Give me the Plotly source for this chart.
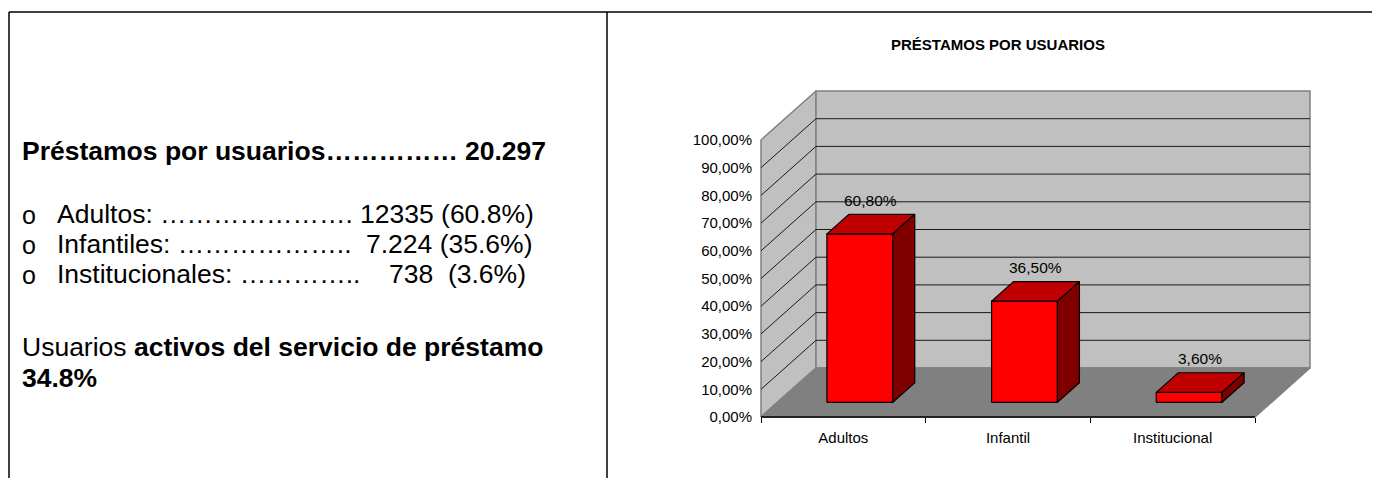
import plotly.graph_objects as go

# ---------------- data ----------------
categories = ["Adultos", "Infantil", "Institucional"]
values = [60.8, 36.5, 3.6]
value_labels = ["60,80%", "36,50%", "3,60%"]
y_tick_values = [0, 10, 20, 30, 40, 50, 60, 70, 80, 90, 100]
y_tick_labels = ["0,00%", "10,00%", "20,00%", "30,00%", "40,00%", "50,00%",
                 "60,00%", "70,00%", "80,00%", "90,00%", "100,00%"]
chart_title = "PRÉSTAMOS POR USUARIOS"

summary_title = "Préstamos por usuarios"
summary_total = "20.297"
item_names = ["Adultos", "Infantiles", "Institucionales"]
item_counts = ["12335", "7.224", "738"]
item_shares = ["(60.8%)", "(35.6%)", "(3.6%)"]
active_label = "Usuarios"
active_bold = "activos del servicio de préstamo"
active_share = "34.8%"

# ---------------- layout geometry (screen pixels) ----------------
W, H = 1380, 478
OFF = 8  # page body margin: figure origin sits at (8, 8) on screen
FRONT_LEFT_PX, FRONT_RIGHT_PX = 761, 1255
FLOOR_PX, TOP_PX = 417, 140
DEPTH_DX_PX, DEPTH_DY_PX = 55, 49
PX_CAT = (FRONT_RIGHT_PX - FRONT_LEFT_PX) / 3.0
PX_PCT = (FLOOR_PX - TOP_PX) / 100.0
DX = DEPTH_DX_PX / PX_CAT
DY = DEPTH_DY_PX / PX_PCT
NCAT = len(categories)
VMAX = y_tick_values[-1]


def fx(px):
    return (px - OFF) / W


def fy(py):
    return 1 - (py - OFF) / H


def P(x, y, z):
    return x + z * DX, y + z * DY


def poly(pts, fill, line_color, width=1):
    xs, ys = zip(*[P(*p) for p in pts])
    xs = list(xs) + [xs[0]]
    ys = list(ys) + [ys[0]]
    return go.Scatter(x=xs, y=ys, mode="lines", fill="toself", fillcolor=fill,
                      line=dict(color=line_color, width=width),
                      hoverinfo="skip", showlegend=False)


def polyline(segments, color, width=1):
    xs, ys = [], []
    for seg in segments:
        for p in seg:
            px, py = P(*p)
            xs.append(px)
            ys.append(py)
        xs.append(None)
        ys.append(None)
    return go.Scatter(x=xs, y=ys, mode="lines", line=dict(color=color, width=width),
                      hoverinfo="skip", showlegend=False)


fig = go.Figure()

WALL = "#C0C0C0"
FLOOR = "#808080"
EDGE = "#808080"

fig.add_trace(poly([(0, 0, 0), (0, VMAX, 0), (0, VMAX, 1), (0, 0, 1)], WALL, EDGE, 1.5))
fig.add_trace(poly([(0, 0, 1), (0, VMAX, 1), (NCAT, VMAX, 1), (NCAT, 0, 1)], WALL, EDGE, 1.5))
fig.add_trace(poly([(0, 0, 0), (NCAT, 0, 0), (NCAT, 0, 1), (0, 0, 1)], FLOOR, EDGE, 1.5))

grid = []
for v in y_tick_values[1:-1]:
    grid.append([(0, v, 0), (0, v, 1), (NCAT, v, 1)])
fig.add_trace(polyline(grid, "#1a1a1a", 1))

fig.add_trace(polyline([[(0, 0, 0), (NCAT, 0, 0)]], "#000000", 1.5))

Z0, Z1 = 0.3, 0.7
HW = 0.2
for i, v in enumerate(values):
    c = i + 0.5
    fig.add_trace(poly([(c - HW, 0, Z0), (c + HW, 0, Z0), (c + HW, v, Z0), (c - HW, v, Z0)],
                       "#FF0000", "#000000", 1.2))
    fig.add_trace(poly([(c - HW, v, Z0), (c + HW, v, Z0), (c + HW, v, Z1), (c - HW, v, Z1)],
                       "#C00000", "#000000", 1.2))
    fig.add_trace(poly([(c + HW, 0, Z0), (c + HW, 0, Z1), (c + HW, v, Z1), (c + HW, v, Z0)],
                       "#800000", "#000000", 1.2))

annotations = []
CHART_FONT = "Liberation Sans, Arial, sans-serif"
for i, (v, t) in enumerate(zip(values, value_labels)):
    lx, ly = P(i + 0.5, v, 0.5)
    annotations.append(dict(x=lx, y=ly, xref="x", yref="y", text=t, showarrow=False,
                            yshift=24, yanchor="middle", xanchor="center",
                            font=dict(family=CHART_FONT, size=15.5, color="#000000")))

annotations.append(dict(x=fx(998), y=fy(44.5), xref="paper", yref="paper",
                        text="<b>" + chart_title + "</b>", showarrow=False,
                        xanchor="center", yanchor="middle",
                        font=dict(family=CHART_FONT, size=15, color="#000000")))

# ---------------- left text panel ----------------
TXT_FONT = "Liberation Sans, Arial, sans-serif"
TS = 26.5
NB = "\u00a0"
ELL = "\u2026"


def ann_left(xpx, ypx, text, size=TS):
    return dict(x=fx(xpx), y=fy(ypx), xref="paper", yref="paper", text=text,
                showarrow=False, xanchor="left", yanchor="middle",
                font=dict(family=TXT_FONT, size=size, color="#000000"))


def ann_right(xpx, ypx, text, size=TS):
    return dict(x=fx(xpx), y=fy(ypx), xref="paper", yref="paper", text=text,
                showarrow=False, xanchor="right", yanchor="middle",
                font=dict(family=TXT_FONT, size=size, color="#000000"))


annotations.append(ann_left(20, 151, "<b>" + summary_title + ELL * 5 + "</b>"))
annotations.append(ann_right(548, 151, "<b>" + summary_total + "</b>"))

leaders = [ELL * 7 + ".", ELL * 6 + "..", ELL * 4 + ".."]
gaps = [NB, NB, NB + NB]
rows_y = [214, 244, 274]
rows_right = [536, 534, 528]
for name, cnt, shr, lead, gap, yy, xr in zip(item_names, item_counts, item_shares, leaders,
                                            gaps, rows_y, rows_right):
    annotations.append(ann_left(20, yy + 1, "o", size=25))
    annotations.append(ann_left(55, yy, name + ":" + NB + lead))
    annotations.append(ann_right(xr, yy, cnt + gap + shr))

annotations.append(ann_left(20, 347, active_label + NB + "<b>" + active_bold + "</b>"))
annotations.append(ann_left(20, 378, "<b>" + active_share + "</b>"))

# ---------------- table borders ----------------
shapes = []
BL = dict(color="#000000", width=1.5)
LEFT_BORDER = OFF + 1
for x0, y0, x1, y1 in [(LEFT_BORDER, 12, 1375, 12), (LEFT_BORDER, 12, LEFT_BORDER, H + OFF),
                       (607, 12, 607, H + OFF), (1375, 12, 1375, H + OFF)]:
    shapes.append(dict(type="line", xref="paper", yref="paper",
                       x0=fx(x0), y0=fy(y0), x1=fx(x1), y1=fy(y1), line=BL))

F_LEFT = FRONT_LEFT_PX - OFF
F_FLOOR = FLOOR_PX - OFF
fig.update_layout(
    width=W, height=H,
    margin=dict(l=0, r=0, t=0, b=0),
    paper_bgcolor="white", plot_bgcolor="rgba(0,0,0,0)",
    showlegend=False,
    annotations=annotations,
    shapes=shapes,
    xaxis=dict(range=[-F_LEFT / PX_CAT, (W - F_LEFT) / PX_CAT],
               domain=[0, 1], anchor="free", position=(H - F_FLOOR) / H,
               showgrid=False, zeroline=False, showline=False,
               tickmode="array", tickvals=[i + 0.5 for i in range(NCAT)], ticktext=categories,
               ticks="", ticklabelstandoff=10,
               tickfont=dict(family=CHART_FONT, size=15, color="#000000"),
               minor=dict(tickmode="array", tickvals=list(range(NCAT + 1)), ticks="outside",
                          ticklen=5, tickcolor="#000000", tickwidth=1, showgrid=False),
               fixedrange=True),
    yaxis=dict(range=[-(H - F_FLOOR) / PX_PCT, F_FLOOR / PX_PCT],
               domain=[0, 1], anchor="free", position=F_LEFT / W,
               showgrid=False, zeroline=False, showline=False,
               tickmode="array", tickvals=y_tick_values, ticktext=y_tick_labels,
               ticks="", ticklabelstandoff=9,
               tickfont=dict(family=CHART_FONT, size=15, color="#000000"),
               fixedrange=True),
)

fig.write_html("out.html")
